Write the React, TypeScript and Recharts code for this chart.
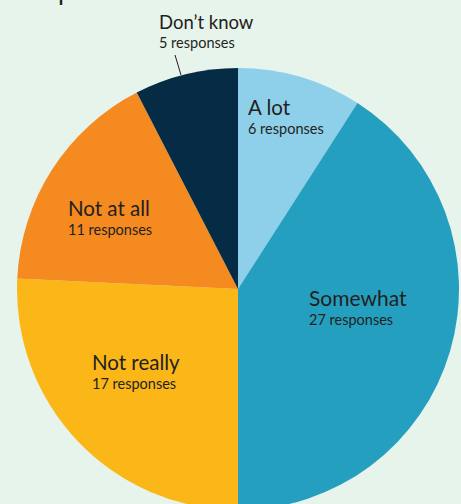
import React from 'react'
import { Cell, Pie, PieChart } from 'recharts'

const CATEGORIES = ['A lot', 'Somewhat', 'Not really', 'Not at all', 'Don\u2019t know']
const RESPONSES = [6, 27, 17, 11, 5]
const COLORS = ['#8ecfea', '#249fbf', '#fbb618', '#f58a21', '#052b45']

// label anchor offsets from the pie centre (left edge of text, main label baseline)
const LABEL_OFFSETS: Record<string, { dx: number; dy: number; size: number }> = {
  'A lot': { dx: 10, dy: -174, size: 20.5 },
  Somewhat: { dx: 71, dy: 17, size: 21 },
  'Not really': { dx: -146, dy: 81, size: 20.5 },
  'Not at all': { dx: -170, dy: -73, size: 20.5 },
  'Don\u2019t know': { dx: -79, dy: -260, size: 18.5 },
}

const TEXT = '#231f20'
const FONT = 'Lato, "Open Sans", sans-serif'

const data = CATEGORIES.map((name, i) => ({ name, value: RESPONSES[i], fill: COLORS[i] }))

function renderLabel(props: any) {
  const { cx, cy, name, value } = props
  const off = LABEL_OFFSETS[name]
  if (!off) return null
  const x = cx + off.dx
  const y = cy + off.dy
  const outside = name === 'Don\u2019t know'
  return (
    <g>
      <text x={x} y={y} fill={TEXT} fontSize={off.size} fontFamily={FONT}>
        {name}
      </text>
      <text x={x} y={y + 19} fill={TEXT} fontSize={14.5} fontFamily={FONT}>
        {`${value} responses`}
      </text>
      {outside && (
        <line x1={cx - 63} y1={cy - 234} x2={cx - 57} y2={cy - 214} stroke={TEXT} strokeWidth={1} />
      )}
    </g>
  )
}

export default function App() {
  return (
    <div style={{ position: 'absolute', left: 0, top: 0, width: 461, height: 504, background: '#e7f4ec', overflow: 'hidden' }}>
      <PieChart width={461} height={504} margin={{ top: 0, right: 0, bottom: 0, left: 0 }}>
        <text x={58} y={0} fill={TEXT} fontSize={26} fontFamily={FONT}>p</text>
        <Pie
          data={data}
          dataKey="value"
          nameKey="name"
          cx={238}
          cy={289}
          outerRadius={221}
          startAngle={90}
          endAngle={-270}
          stroke="none"
          label={renderLabel}
          labelLine={false}
          isAnimationActive={false}
        >
          {data.map((entry) => (
            <Cell key={entry.name} fill={entry.fill} />
          ))}
        </Pie>
      </PieChart>
    </div>
  )
}
